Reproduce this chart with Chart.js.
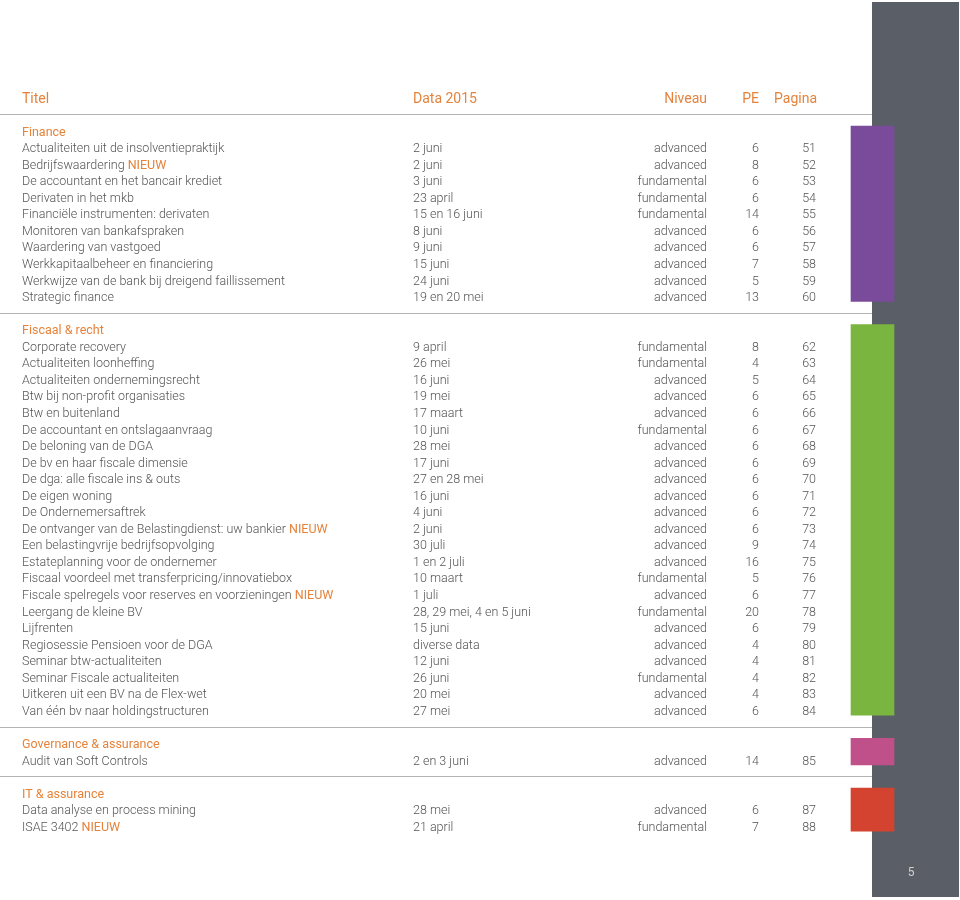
<!DOCTYPE html>
<html>
<head>
<meta charset="utf-8">
<script src="https://cdn.jsdelivr.net/npm/chart.js@4"></script>
<style>
  html, body { margin: 0; padding: 0; background: #fff; }
  canvas { display: block; }
</style>
</head>
<body>
<canvas id="courseChart" width="960" height="900"></canvas>
<script>
const columns = ['Titel', 'Data 2015', 'Niveau', 'PE', 'Pagina'];
const sections = ['Finance', 'Fiscaal & recht', 'Governance & assurance', 'IT & assurance'];
const sectionSizes = [10, 23, 1, 2];

const titles = [
  'Actualiteiten uit de insolventiepraktijk', 'Bedrijfswaardering NIEUW', 'De accountant en het bancair krediet',
  'Derivaten in het mkb', 'Financiële instrumenten: derivaten', 'Monitoren van bankafspraken',
  'Waardering van vastgoed', 'Werkkapitaalbeheer en financiering', 'Werkwijze van de bank bij dreigend faillissement',
  'Strategic finance',
  'Corporate recovery', 'Actualiteiten loonheffing', 'Actualiteiten ondernemingsrecht', 'Btw bij non-profit organisaties',
  'Btw en buitenland', 'De accountant en ontslagaanvraag', 'De beloning van de DGA', 'De bv en haar fiscale dimensie',
  'De dga: alle fiscale ins & outs', 'De eigen woning', 'De Ondernemersaftrek',
  'De ontvanger van de Belastingdienst: uw bankier NIEUW', 'Een belastingvrije bedrijfsopvolging',
  'Estateplanning voor de ondernemer', 'Fiscaal voordeel met transferpricing/innovatiebox',
  'Fiscale spelregels voor reserves en voorzieningen NIEUW', 'Leergang de kleine BV', 'Lijfrenten',
  'Regiosessie Pensioen voor de DGA', 'Seminar btw-actualiteiten', 'Seminar Fiscale actualiteiten',
  'Uitkeren uit een BV na de Flex-wet', 'Van één bv naar holdingstructuren',
  'Audit van Soft Controls',
  'Data analyse en process mining', 'ISAE 3402 NIEUW'
];
const dates = [
  '2 juni', '2 juni', '3 juni', '23 april', '15 en 16 juni', '8 juni', '9 juni', '15 juni', '24 juni', '19 en 20 mei',
  '9 april', '26 mei', '16 juni', '19 mei', '17 maart', '10 juni', '28 mei', '17 juni', '27 en 28 mei', '16 juni',
  '4 juni', '2 juni', '30 juli', '1 en 2 juli', '10 maart', '1 juli', '28, 29 mei, 4 en 5 juni', '15 juni',
  'diverse data', '12 juni', '26 juni', '20 mei', '27 mei',
  '2 en 3 juni',
  '28 mei', '21 april'
];
const levels = [
  'advanced', 'advanced', 'fundamental', 'fundamental', 'fundamental', 'advanced', 'advanced', 'advanced', 'advanced', 'advanced',
  'fundamental', 'fundamental', 'advanced', 'advanced', 'advanced', 'fundamental', 'advanced', 'advanced', 'advanced', 'advanced',
  'advanced', 'advanced', 'advanced', 'advanced', 'fundamental', 'advanced', 'fundamental', 'advanced', 'advanced', 'advanced',
  'fundamental', 'advanced', 'advanced',
  'advanced',
  'advanced', 'fundamental'
];
const pe = [6, 8, 6, 6, 14, 6, 6, 7, 5, 13,
  8, 4, 5, 6, 6, 6, 6, 6, 6, 6, 6, 6, 9, 16, 5, 6, 20, 6, 4, 4, 4, 4, 6,
  14,
  6, 7];
const pages = [51, 52, 53, 54, 55, 56, 57, 58, 59, 60,
  62, 63, 64, 65, 66, 67, 68, 69, 70, 71, 72, 73, 74, 75, 76, 77, 78, 79, 80, 81, 82, 83, 84,
  85,
  87, 88];
const pageNumber = '5';

const orange = '#e5833c';
const textGrey = '#555555';
const sectionColors = ['#7a4b9b', '#7ab53f', '#c0508a', '#d3432f'];
const stripColor = '#5a5e66';
const fontFamily = 'Roboto, "Noto Sans", sans-serif';
const bodyFont = '300 12.5px ' + fontFamily;
const textShift = 1.5; // middle baseline sits a bit high in Roboto

// row slots: header at -2, line at -1, then each section header, its rows, a line
const headerRow = -2;
const rowPos = [];
const sectionRows = [];
const separatorRows = [-1];
let slot = 0;
sectionSizes.forEach((n, s) => {
  const head = slot++;
  for (let i = 0; i < n; i++) rowPos.push(slot++);
  sectionRows.push([head, slot - 1]);
  if (s < sectionSizes.length - 1) separatorRows.push(slot++);
});

const colX = { title: 22, date: 413, level: 707, pe: 759, page: 816 };

const tablePlugin = {
  id: 'tablePlugin',
  beforeDatasetsDraw(chart) {
    const { ctx, chartArea, scales: { x, y } } = chart;
    ctx.save();
    const left = x.getPixelForValue(872);
    ctx.fillStyle = stripColor;
    ctx.fillRect(left, chartArea.top + 2, x.getPixelForValue(959) - left, chartArea.bottom - chartArea.top - 5);

    ctx.strokeStyle = '#b4b4b4';
    ctx.lineWidth = 1;
    separatorRows.forEach((r) => {
      const py = Math.round(y.getPixelForValue(r)) + 0.5;
      ctx.beginPath();
      ctx.moveTo(x.getPixelForValue(0), py);
      ctx.lineTo(left, py);
      ctx.stroke();
    });
    ctx.restore();
  },
  afterDatasetsDraw(chart) {
    const { ctx, chartArea, scales: { x, y } } = chart;
    const rowY = (r) => y.getPixelForValue(r) + textShift;
    ctx.save();
    ctx.textBaseline = 'middle';

    // column headers
    ctx.font = '400 14px ' + fontFamily;
    ctx.fillStyle = orange;
    const hy = rowY(headerRow);
    ctx.textAlign = 'left';
    ctx.fillText(columns[0], x.getPixelForValue(colX.title), hy);
    ctx.fillText(columns[1], x.getPixelForValue(colX.date), hy);
    ctx.textAlign = 'right';
    ctx.fillText(columns[2], x.getPixelForValue(colX.level), hy);
    ctx.fillText(columns[3], x.getPixelForValue(colX.pe), hy);
    ctx.fillText(columns[4], x.getPixelForValue(colX.page + 1), hy);

    // section headers
    ctx.font = '400 12.5px ' + fontFamily;
    ctx.textAlign = 'left';
    sections.forEach((name, s) => {
      ctx.fillText(name, x.getPixelForValue(colX.title), rowY(sectionRows[s][0]));
    });

    // course rows
    const tag = 'NIEUW';
    titles.forEach((t, i) => {
      const py = rowY(rowPos[i]);
      const tx = x.getPixelForValue(colX.title);
      ctx.font = bodyFont;
      ctx.textAlign = 'left';
      const isNew = t.endsWith(' ' + tag);
      const base = isNew ? t.slice(0, -(tag.length + 1)) : t;
      ctx.fillStyle = textGrey;
      ctx.fillText(base, tx, py);
      if (isNew) {
        const offset = ctx.measureText(base + ' ').width;
        ctx.font = '400 12.5px ' + fontFamily;
        ctx.fillStyle = orange;
        ctx.fillText(tag, tx + offset, py);
        ctx.font = bodyFont;
        ctx.fillStyle = textGrey;
      }
      ctx.fillText(dates[i], x.getPixelForValue(colX.date), py);
      ctx.textAlign = 'right';
      ctx.fillText(levels[i], x.getPixelForValue(colX.level), py);
      ctx.fillText(String(pe[i]), x.getPixelForValue(colX.pe), py);
      ctx.fillText(String(pages[i]), x.getPixelForValue(colX.page), py);
    });

    // page number
    ctx.font = '400 12px ' + fontFamily;
    ctx.fillStyle = '#d6d0ca';
    ctx.textAlign = 'center';
    ctx.fillText(pageNumber, x.getPixelForValue(911), chartArea.bottom - 27);
    ctx.restore();
  }
};

new Chart(document.getElementById('courseChart'), {
  type: 'bar',
  data: {
    datasets: [{
      label: 'Secties',
      data: sectionRows.map(([a, b]) => ({ x: 872.5, y: [a - 0.3, b + 0.3] })),
      backgroundColor: sectionColors,
      borderWidth: 0,
      barThickness: 43
    }]
  },
  options: {
    responsive: false,
    animation: false,
    layout: { padding: 0 },
    plugins: { legend: { display: false }, tooltip: { enabled: false } },
    scales: {
      x: { type: 'linear', min: 0, max: 960, display: false, offset: false },
      y: { type: 'linear', reverse: true, min: -7.915, max: 46.465, display: false }
    }
  },
  plugins: [tablePlugin]
});
</script>
</body>
</html>
